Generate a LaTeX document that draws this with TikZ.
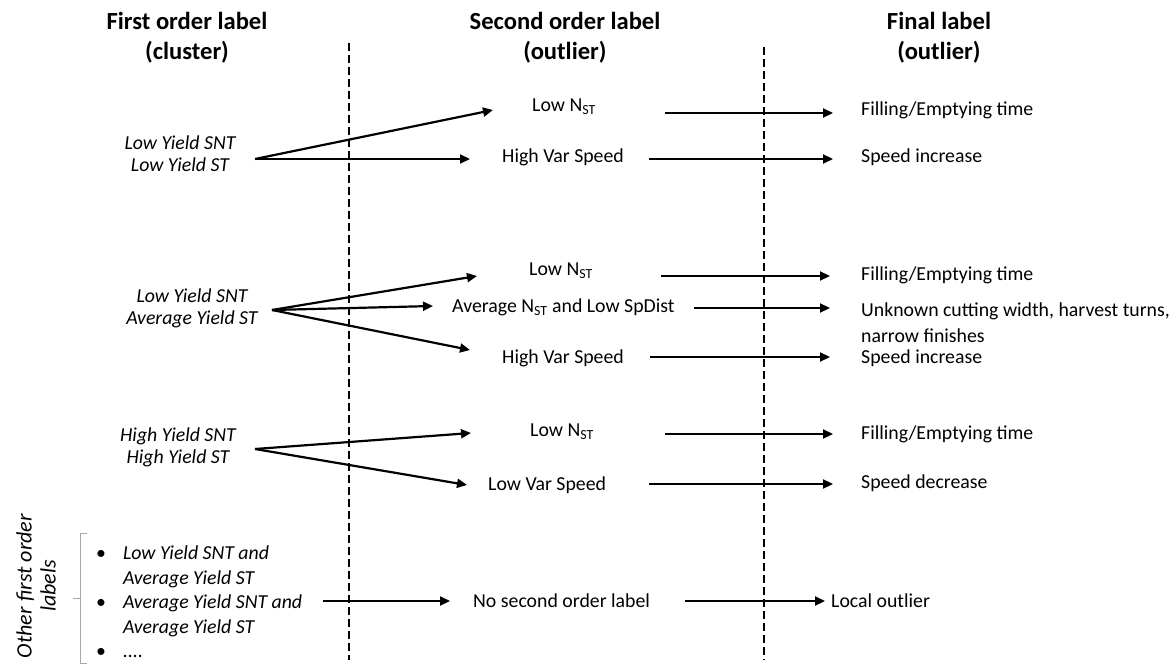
\documentclass[tikz,border=0pt]{standalone}
\usepackage{fontspec}
\setmainfont{Carlito}
\usetikzlibrary{arrows.meta}

\newcommand{\bodysize}{\fontsize{19.8}{22}\selectfont}
\newcommand{\headsize}{\fontsize{24.6}{30}\selectfont\bfseries}

\tikzset{
  head/.style={font=\headsize, align=center, inner sep=0pt},
  first/.style={font=\bodysize\itshape, align=center, inner sep=0pt},
  second/.style={font=\bodysize, anchor=west, inner sep=0pt},
  final/.style={font=\fontsize{19.8}{26}\selectfont, anchor=west, align=left, inner sep=0pt},
  arr/.style={line width=2.2pt, -{Triangle[length=10pt,width=9pt]}},
  sep/.style={line width=2.3pt, dash pattern=on 8pt off 4pt},
}

\begin{document}
\begin{tikzpicture}[x=1pt,y=-1pt]
                \useasboundingbox (0,0) rectangle (1176,666);
                % column heads
                \node[head] (h1) at (187,38) {First order label\\(cluster)};
                \node[head] (h2) at (565,38) {Second order label\\(outlier)};
                \node[head] (h3) at (939,38) {Final label\\(outlier)};
                
                \draw[sep] (349,43) -- (349,660);
                \draw[sep] (764,47) -- (764,660);
                
                % low / low
                \node[first] (g1) at (180,154) {Low Yield SNT\\Low Yield ST};
                \coordinate (g1o) at (255,159);
                \node[second] (s1a) at (532,107) {Low N\textsubscript{ST}};
                \node[second] (s1b) at (502,157) {High Var Speed};
                \node[final] (f1a) at (861,110) {Filling/Emptying time};
                \node[final] (f1b) at (861,157) {Speed increase};
                
                \draw[arr] (g1o) -- ([shift={(-39,3)}]s1a.west);
                \draw[arr] (g1o) -- ([shift={(-32,2)}]s1b.west);
                \draw[arr] ([shift={(69,6)}]s1a.east) -- ([shift={(-28,3)}]f1a.west);
                \draw[arr] ([shift={(25,2)}]s1b.east) -- ([shift={(-28,2)}]f1b.west);
                
                % low / average
                \node[first] (g2) at (192,308) {Low Yield SNT\\Average Yield ST};
                \coordinate (g2o) at (272,310);
                \node[second] (s2a) at (529,271) {Low N\textsubscript{ST}};
                \node[second] (s2b) at (452,307) {Average N\textsubscript{ST} and Low SpDist};
                \node[second] (s2c) at (502,358) {High Var Speed};
                \node[final] (f2a) at (861,275) {Filling/Emptying time};
                \node[final] (f2b) at (861,323) {Unknown cutting width, harvest turns,\\narrow finishes};
                \node[final] (f2c) at (861,358) {Speed increase};
                
                \draw[arr] (g2o) -- ([shift={(-52,5)}]s2a.west);
                \draw[arr] (g2o) -- ([shift={(-19,-1)}]s2b.west);
                \draw[arr] (g2o) -- ([shift={(-32,-8)}]s2c.west);
                \draw[arr] ([shift={(68,5)}]s2a.east) -- ([shift={(-31,1)}]f2a.west);
                \draw[arr] ([shift={(19,1)}]s2b.east) -- ([shift={(-31,-15)}]f2b.west);
                \draw[arr] ([shift={(26,-1)}]s2c.east) -- ([shift={(-31,-1)}]f2c.west);
                
                % high / high
                \node[first] (g3) at (178,447) {High Yield SNT\\High Yield ST};
                \coordinate (g3o) at (255,449);
                \node[second] (s3a) at (530,432) {Low N\textsubscript{ST}};
                \node[second] (s3b) at (488,485) {Low Var Speed};
                \node[final] (f3a) at (861,434) {Filling/Emptying time};
                \node[final] (f3b) at (861,483) {Speed decrease};
                
                \draw[arr] (g3o) -- ([shift={(-59,1)}]s3a.west);
                \draw[arr] (g3o) -- ([shift={(-21,0)}]s3b.west);
                \draw[arr] ([shift={(71,2)}]s3a.east) -- ([shift={(-28,0)}]f3a.west);
                \draw[arr] ([shift={(43,-1)}]s3b.east) -- ([shift={(-28,1)}]f3b.west);
                
                % everything else
                \node[first, rotate=90, font=\fontsize{22}{24}\selectfont\itshape] (other) at (36,586) {Other first order\\labels};
                \draw[gray!70, line width=0.8pt] (87,533) -- (80,533) -- (80,663) -- (87,663)
                    (80,598) -- (73,598);
                \node[anchor=west, inner sep=0pt, font=\fontsize{19.8}{24.5}\selectfont] (rest) at (96,604) {%
                    \begin{tabular}{@{}l@{\hspace{17pt}}l@{}}
                    \textbullet & \textit{Low Yield SNT and}\\
                     & \textit{Average Yield ST}\\
                    \textbullet & \textit{Average Yield SNT and}\\
                     & \textit{Average Yield ST}\\
                    \textbullet & \textit{....}
                    \end{tabular}};
                \coordinate (b0) at (323,601);
                \node[second] (s4) at (473,601) {No second order label};
                \node[final] (f4) at (831,601) {Local outlier};
                
                \draw[arr] (b0) -- ([shift={(-23,0)}]s4.west);
                \draw[arr] ([shift={(35,0)}]s4.east) -- ([shift={(-6,0)}]f4.west);
            \end{tikzpicture}
\end{document}
